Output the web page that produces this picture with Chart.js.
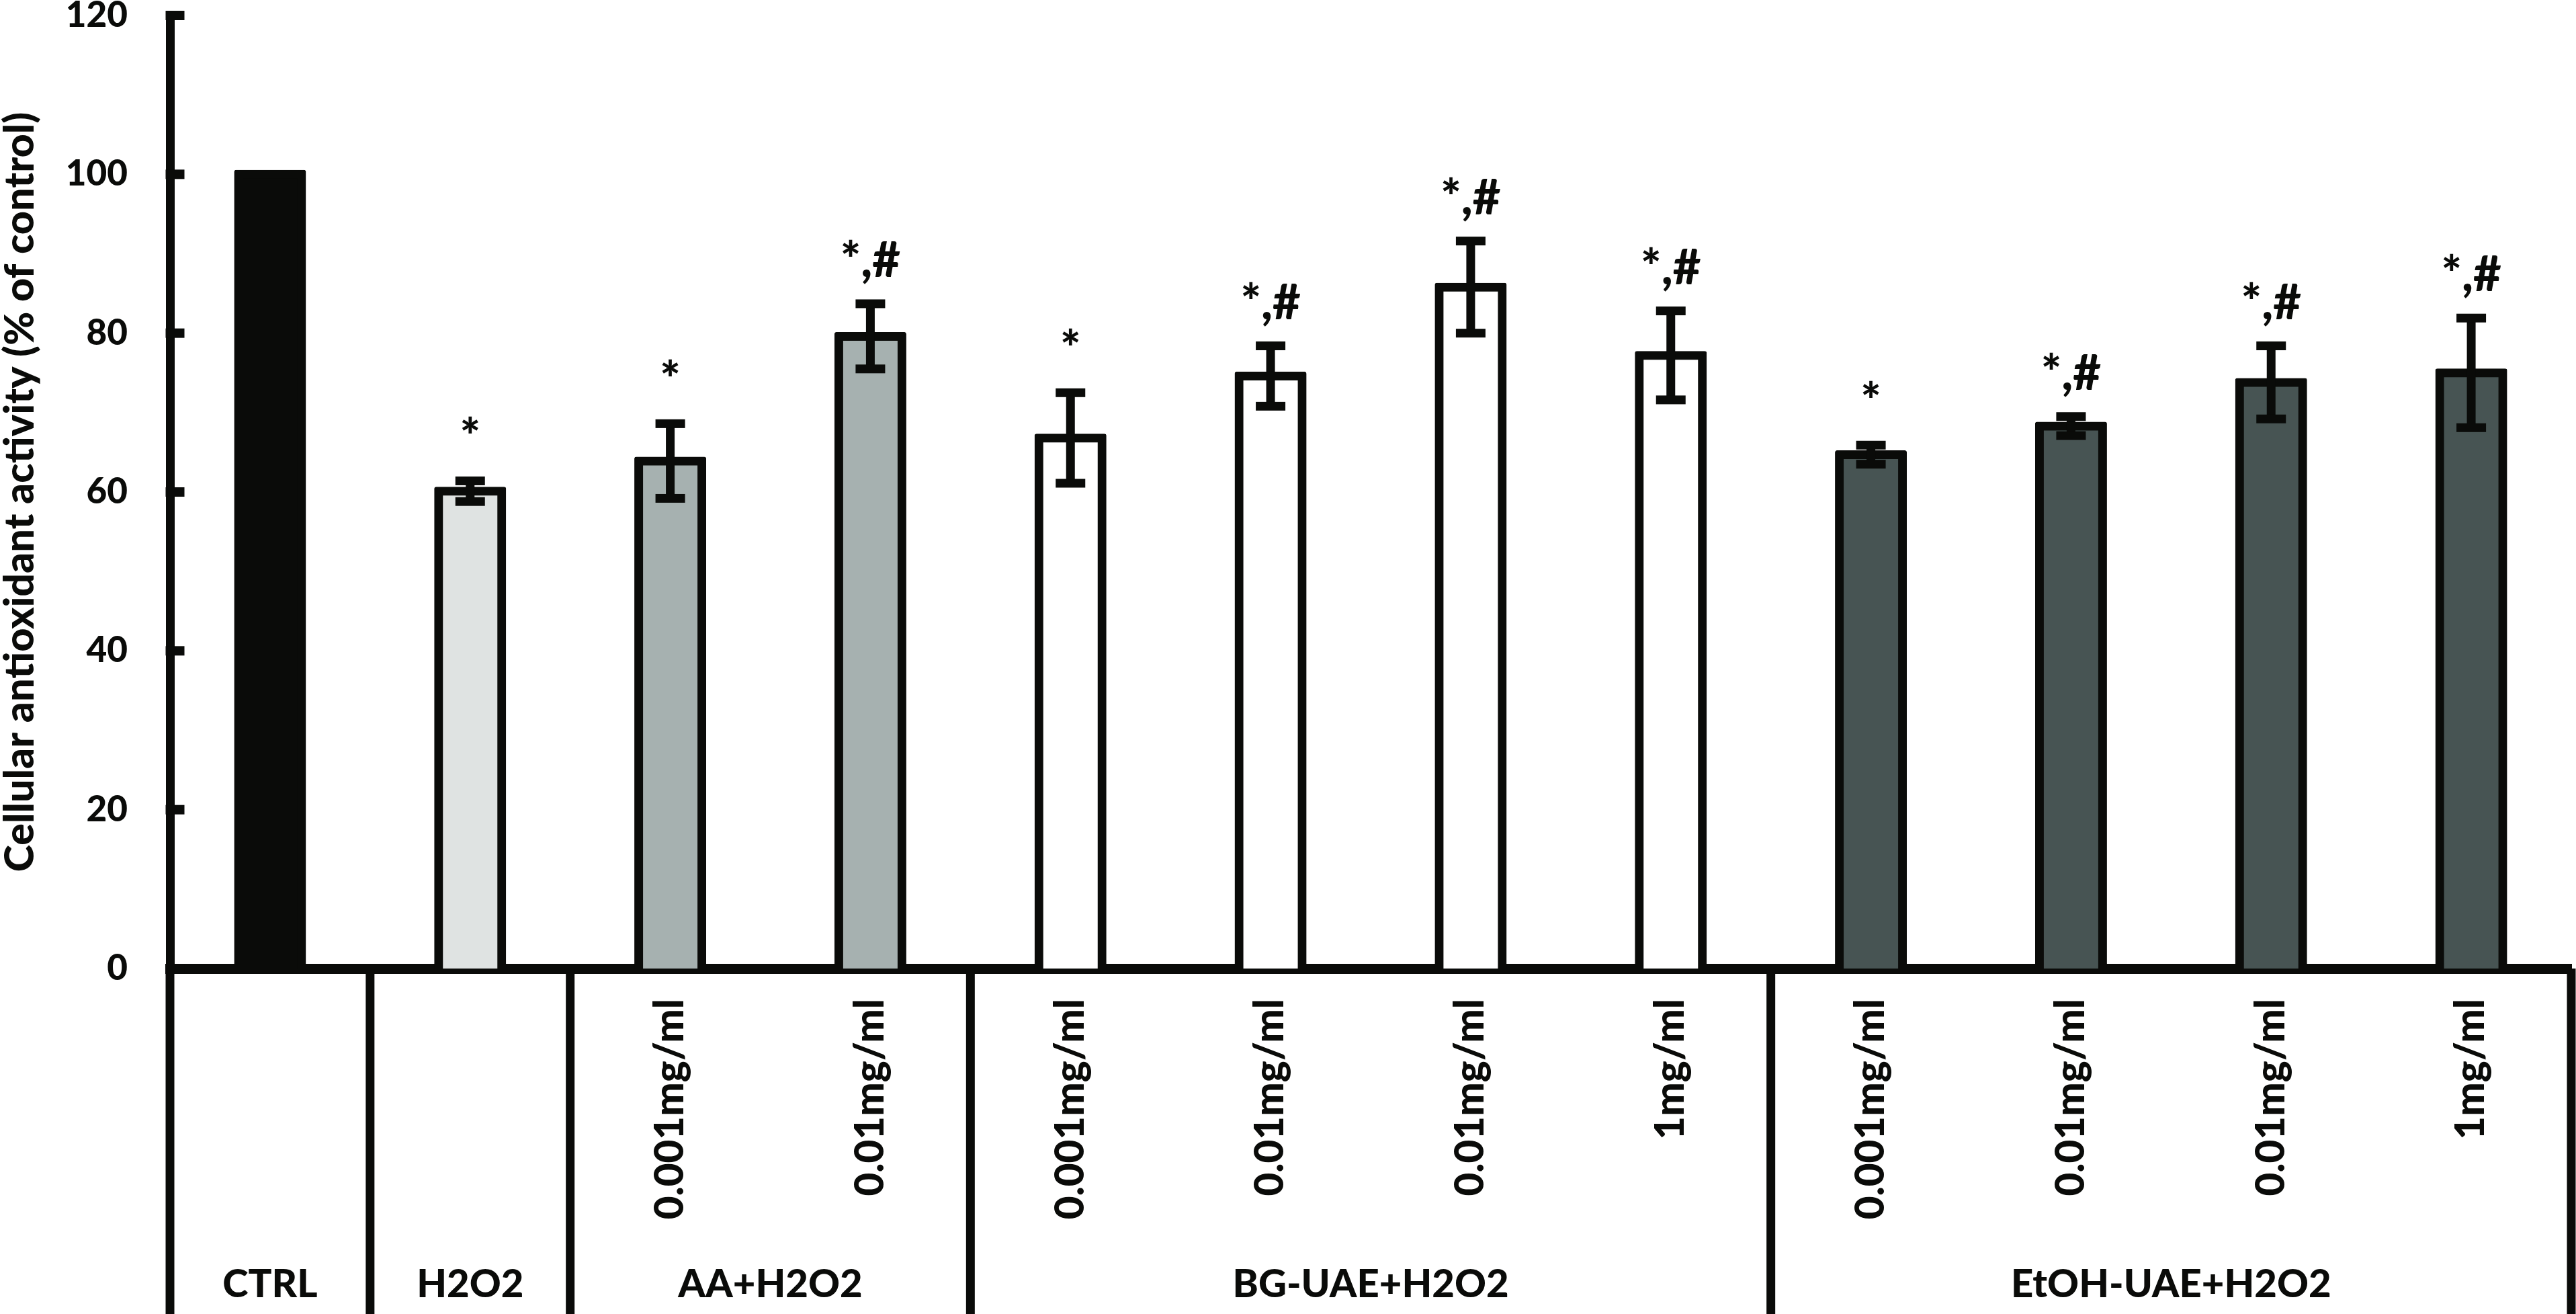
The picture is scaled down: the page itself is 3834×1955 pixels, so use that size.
<!DOCTYPE html>
<html><head><meta charset="utf-8">
<script src="https://cdn.jsdelivr.net/npm/chart.js@4.4.1/dist/chart.umd.min.js"></script>
<style>html,body{margin:0;padding:0;background:#fff;}canvas{display:block;}</style>
</head><body>
<canvas id="c" width="3834" height="1955"></canvas>
<script>
const categories = ['', '', '0.001mg/ml', '0.01mg/ml', '0.001mg/ml', '0.01mg/ml', '0.01mg/ml', '1mg/ml', '0.001mg/ml', '0.01mg/ml', '0.01mg/ml', '1mg/ml'];
const values = [100, 60.1, 63.9, 79.6, 66.8, 74.6, 85.8, 77.2, 64.7, 68.3, 73.8, 75.0];
const errors = [0, 1.3, 4.7, 4.1, 5.7, 3.8, 5.8, 5.6, 1.2, 1.2, 4.6, 6.9];
const significance = ['', '*', '*', '*,#', '*', '*,#', '*,#', '*,#', '*', '*,#', '*,#', '*,#'];
const groupLabels = ['CTRL', 'H2O2', 'AA+H2O2', 'BG-UAE+H2O2', 'EtOH-UAE+H2O2'];
const groupSizes = [1, 1, 2, 4, 4];
const groupColors = ['#0a0b09', '#dfe3e2', '#a6b1b0', '#ffffff', '#475453'];
const yTicks = [0, 20, 40, 60, 80, 100, 120];
const yTitle = 'Cellular antioxidant activity (% of control)';

const INK = '#0a0b09';
const FONT = 'Lato, "Open Sans", sans-serif';
const WEIGHT = 900;

const barColors = [];
groupSizes.forEach((n, k) => { for (let i = 0; i < n; i++) barColors.push(groupColors[k]); });

const decor = {
  id: 'decor',
  afterDatasetsDraw(chart) {
    const ctx = chart.ctx, y = chart.scales.y, meta = chart.getDatasetMeta(0);
    ctx.save();
    ctx.fillStyle = INK;
    meta.data.forEach((bar, i) => {
      const e = errors[i], x = bar.x;
      const yt = y.getPixelForValue(values[i] + e);
      if (e > 0) {
        const yb = y.getPixelForValue(values[i] - e);
        ctx.fillRect(x - 6.5, yt, 13, yb - yt);
        ctx.fillRect(x - 22, yt - 6.5, 44, 13);
        ctx.fillRect(x - 22, yb - 6.5, 44, 13);
      }
      if (significance[i]) {
        ctx.font = WEIGHT + ' 72px ' + FONT;
        ctx.textAlign = 'center';
        ctx.textBaseline = 'alphabetic';
        ctx.fillText(significance[i], x, yt - 40);
      }
    });
    ctx.restore();
  },
  afterDraw(chart) {
    const ctx = chart.ctx, x = chart.scales.x, y = chart.scales.y, area = chart.chartArea;
    ctx.save();
    ctx.fillStyle = INK;
    yTicks.forEach(v => {
      const py = y.getPixelForValue(v);
      ctx.fillRect(area.left - 6.5, py - 7, 28, 14);
    });
    const half = (x.getPixelForValue(1) - x.getPixelForValue(0)) / 2;
    const edges = [x.getPixelForValue(0) - half];
    let idx = 0;
    groupSizes.forEach(n => { idx += n; edges.push(x.getPixelForValue(idx - 1) + half); });
    edges.forEach(px => ctx.fillRect(px - 6.5, area.bottom, 13, chart.height - area.bottom));
    ctx.font = WEIGHT + ' 58px ' + FONT;
    ctx.textAlign = 'center';
    ctx.textBaseline = 'alphabetic';
    groupLabels.forEach((g, k) => ctx.fillText(g, (edges[k] + edges[k + 1]) / 2, chart.height - 25));
    ctx.restore();
  }
};

new Chart(document.getElementById('c'), {
  type: 'bar',
  data: {
    labels: categories,
    datasets: [{
      data: values,
      backgroundColor: barColors,
      borderColor: INK,
      borderWidth: 13,
      borderSkipped: 'start',
      borderRadius: 3,
      inflateAmount: 6.5,
      barPercentage: 0.3157,
      categoryPercentage: 1
    }]
  },
  options: {
    responsive: false,
    animation: false,
    devicePixelRatio: 1,
    layout: { padding: { top: 23, right: 7, bottom: 0, left: 0 } },
    plugins: { legend: { display: false }, tooltip: { enabled: false } },
    scales: {
      x: {
        type: 'category',
        z: 1,
        grid: { display: false, drawTicks: false },
        border: { display: true, color: INK, width: 15 },
        ticks: {
          autoSkip: false, minRotation: 90, maxRotation: 90, padding: 45, color: INK,
          font: { family: FONT, weight: WEIGHT, size: 60 }
        },
        afterFit(s) { s.height = 514; s.paddingLeft = 0; s.paddingRight = 0; }
      },
      y: {
        min: 0, max: 120,
        grid: { display: false, drawTicks: false },
        border: { display: true, color: INK, width: 13 },
        afterBuildTicks(s) { s.ticks = yTicks.map(v => ({ value: v })); },
        ticks: {
          padding: 63, color: INK,
          font: { family: FONT, weight: WEIGHT, size: 53 }
        },
        title: {
          display: true, text: yTitle, color: INK,
          font: { family: FONT, weight: WEIGHT, size: 61, lineHeight: 1 },
          padding: { top: 0, bottom: 0 }
        },
        afterFit(s) { s.width = 253; s.paddingTop = 0; s.paddingBottom = 0; }
      }
    }
  },
  plugins: [decor]
});
</script>
</body></html>
